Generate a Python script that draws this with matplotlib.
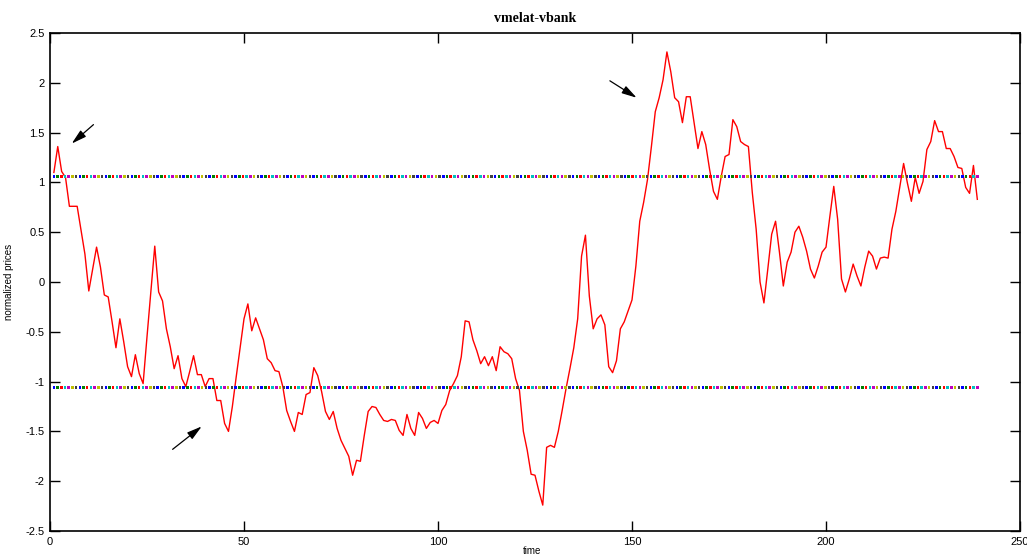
import matplotlib
matplotlib.use("Agg")
import matplotlib.pyplot as plt
import numpy as np

# spread (normalized prices), t = 1..239
spread = [1.10, 1.36, 1.11, 1.05, 0.76, 0.76, 0.76, 0.52, 0.28, -0.09,
          0.13, 0.35, 0.15, -0.13, -0.15, -0.40, -0.66, -0.37, -0.60, -0.85,
          -0.95, -0.73, -0.92, -1.02, -0.55, -0.10, 0.36, -0.10, -0.19, -0.47,
          -0.65, -0.87, -0.74, -0.97, -1.05, -0.90, -0.74, -0.93, -0.93, -1.05,
          -0.97, -0.97, -1.19, -1.19, -1.42, -1.50, -1.25, -0.95, -0.66, -0.37,
          -0.22, -0.49, -0.36, -0.47, -0.58, -0.77, -0.81, -0.89, -0.90, -1.05,
          -1.29, -1.40, -1.50, -1.31, -1.33, -1.13, -1.11, -0.86, -0.94, -1.10,
          -1.30, -1.38, -1.30, -1.47, -1.59, -1.67, -1.75, -1.94, -1.79, -1.80,
          -1.54, -1.30, -1.25, -1.26, -1.33, -1.39, -1.40, -1.38, -1.39, -1.49,
          -1.54, -1.33, -1.47, -1.54, -1.31, -1.37, -1.47, -1.41, -1.39, -1.42,
          -1.29, -1.23, -1.09, -1.02, -0.94, -0.75, -0.39, -0.40, -0.58, -0.69,
          -0.82, -0.75, -0.84, -0.75, -0.89, -0.65, -0.70, -0.72, -0.77, -0.97,
          -1.09, -1.50, -1.69, -1.93, -1.94, -2.10, -2.24, -1.66, -1.64, -1.66,
          -1.50, -1.29, -1.07, -0.87, -0.66, -0.37, 0.26, 0.47, -0.14, -0.47,
          -0.37, -0.33, -0.43, -0.85, -0.91, -0.79, -0.47, -0.40, -0.29, -0.18,
          0.16, 0.61, 0.80, 1.03, 1.36, 1.71, 1.85, 2.03, 2.31, 2.11,
          1.85, 1.81, 1.60, 1.86, 1.86, 1.60, 1.34, 1.51, 1.38, 1.13,
          0.91, 0.83, 1.06, 1.26, 1.28, 1.63, 1.56, 1.41, 1.38, 1.36,
          0.90, 0.53, 0.00, -0.21, 0.13, 0.48, 0.61, 0.30, -0.04, 0.20,
          0.30, 0.50, 0.56, 0.45, 0.31, 0.13, 0.04, 0.16, 0.30, 0.35,
          0.66, 0.96, 0.63, 0.03, -0.10, 0.03, 0.18, 0.06, -0.04, 0.15,
          0.31, 0.26, 0.13, 0.24, 0.25, 0.24, 0.53, 0.71, 0.95, 1.19,
          0.99, 0.81, 1.05, 0.89, 1.01, 1.33, 1.41, 1.62, 1.51, 1.51,
          1.34, 1.34, 1.26, 1.15, 1.14, 0.95, 0.89, 1.17, 0.83]
threshold = 1.06

# arrows: (tail_t, tail_v, head_t, head_v)
arrows = [(11.2, 1.58, 5.6, 1.39),
          (31.6, -1.68, 39.1, -1.45),
          (144.3, 2.02, 151.2, 1.85)]

t = np.arange(1, len(spread) + 1)

# old matlab colour order for the dotted bands
cols = [(0, 0, 1), (0, 0.5, 0), (1, 0, 0), (0, 0.75, 0.75),
        (0.75, 0, 0.75), (0.75, 0.75, 0), (0.25, 0.25, 0.25)]

plt.rcParams['font.family'] = ['Liberation Sans', 'DejaVu Sans']

fig = plt.figure(figsize=(10.27, 5.57), dpi=100)
ax = fig.add_axes([50/1027, 26/557, 970/1027, 498/557])

ax.plot(t, spread, color='red', lw=1)

xd = np.linspace(t[0], t[-1], 250)
cd = [cols[i % len(cols)] for i in range(len(xd))]
for lvl in (threshold, -threshold):
    ax.scatter(xd, np.full(len(xd), lvl), s=3.2, c=cd, marker='s', linewidths=0, zorder=3)

for x0, y0, x1, y1 in arrows:
    ax.annotate('', xy=(x1, y1), xytext=(x0, y0),
                arrowprops=dict(arrowstyle='-|>,head_length=0.9,head_width=0.25',
                                color='black', lw=0.9, shrinkA=0, shrinkB=0))

ax.set_xlim(0, 250)
ax.set_ylim(-2.5, 2.5)
ax.set_xticks([0, 50, 100, 150, 200, 250])
ax.set_yticks(np.arange(-2.5, 2.51, 0.5))
ax.set_yticklabels(['-2.5', '-2', '-1.5', '-1', '-0.5', '0', '0.5', '1', '1.5', '2', '2.5'])
ax.tick_params(direction='in', length=7, width=1, labelsize=8,
               top=True, right=True, pad=4)
for s in ax.spines.values():
    s.set_linewidth(1.2)

ax.set_title('vmelat-vbank', family='Liberation Serif', fontweight='bold',
             fontsize=10, pad=8)
ax.set_ylabel('normalized prices', fontsize=7, labelpad=8)
fig.text(532/1027, 1/557, 'time', fontsize=7, ha='center', va='bottom')

fig.savefig('out.png', dpi=100)
